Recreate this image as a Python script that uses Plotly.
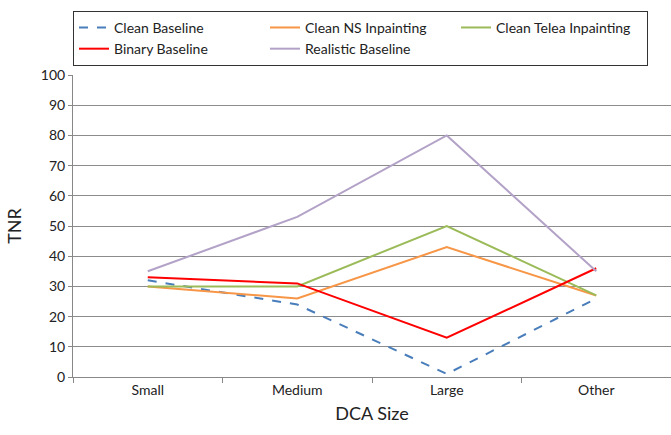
import plotly.graph_objects as go

categories = ["Small", "Medium", "Large", "Other"]

clean_baseline = [32, 24, 1, 26]
clean_ns_inpainting = [30, 26, 43, 27]
clean_telea_inpainting = [30, 30, 50, 27]
binary_baseline = [33, 31, 13, 36]
realistic_baseline = [35, 53, 80, 35]

y_ticks = list(range(0, 101, 10))

series = [
    ("Clean Baseline", clean_baseline, "#4a7ebb", "dash"),
    ("Clean NS Inpainting", clean_ns_inpainting, "#f79646", "solid"),
    ("Clean Telea Inpainting", clean_telea_inpainting, "#9bbb59", "solid"),
    ("Binary Baseline", binary_baseline, "#ff0000", "solid"),
    ("Realistic Baseline", realistic_baseline, "#b3a2c7", "solid"),
]

fig = go.Figure()
for name, values, color, dash in series:
    fig.add_trace(go.Scatter(
        x=categories, y=values, name=name, mode="lines",
        line=dict(color=color, width=2, dash=dash),
    ))

font_family = "Lato, 'Open Sans', sans-serif"

fig.update_layout(
    width=671, height=435,
    margin=dict(l=73, r=0, t=75, b=58, autoexpand=False),
    paper_bgcolor="white", plot_bgcolor="white",
    font=dict(family=font_family, color="#222", size=14),
    showlegend=True,
    legend=dict(
        orientation="h",
        x=0, xanchor="left",
        yref="container", y=0.975, yanchor="top",
        entrywidth=146, entrywidthmode="pixels",
        bordercolor="#333", borderwidth=1,
        font=dict(size=14, family=font_family),
        itemwidth=30,
    ),
    xaxis=dict(
        type="category", range=[-0.5, 3.5],
        showgrid=False, showline=True, linecolor="#888", linewidth=1,
        ticks="outside", tickson="boundaries", ticklen=5, tickcolor="#888",
        title=dict(text="DCA Size", font=dict(size=18), standoff=10),
        tickfont=dict(size=14),
    ),
    yaxis=dict(
        range=[0, 100], tickvals=y_ticks,
        showgrid=True, gridcolor="#8c8c8c", gridwidth=1,
        showline=True, linecolor="#888", linewidth=1,
        ticks="outside", ticklen=4, tickcolor="#888",
        zeroline=False,
        title=dict(text="TNR", font=dict(size=18), standoff=14),
        tickfont=dict(size=14),
    ),
)

fig.write_html("out.html")
